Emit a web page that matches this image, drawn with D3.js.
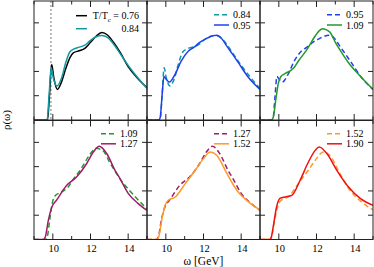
<!DOCTYPE html>
<html><head><meta charset="utf-8">
<script src="https://cdn.jsdelivr.net/npm/d3@7"></script>
<style>body{margin:0;background:#fff}</style></head>
<body><svg id="c" width="374" height="267"></svg>
<script>
// ---- data ----
const omega076 = [9.0, 9.6, 9.72, 9.82, 9.94, 10.05, 10.24, 10.45, 10.7, 10.91, 11.1, 11.4, 11.7, 12.0, 12.3, 12.6, 12.9, 13.22, 13.6, 14.0, 14.5, 15.0];
const rho076   = [0, 0, 0.02, 1.0, 2.29, 1.75, 1.26, 1.55, 2.15, 2.57, 2.77, 2.85, 2.95, 3.2, 3.45, 3.6, 3.5, 3.2, 2.75, 2.2, 1.72, 1.33];
const omega084 = [9.0, 9.6, 9.7, 9.8, 9.91, 10.02, 10.22, 10.45, 10.7, 10.9, 11.1, 11.4, 11.7, 12.0, 12.3, 12.6, 12.9, 13.2, 13.6, 14.0, 14.5, 15.0];
const rho084   = [0, 0, 0.03, 1.0, 2.15, 1.75, 1.4, 1.7, 2.4, 2.8, 2.92, 3.0, 3.08, 3.28, 3.43, 3.48, 3.4, 3.15, 2.7, 2.25, 1.75, 1.3];
const omega095 = [9.0, 9.62, 9.7, 9.8, 9.9, 10.0, 10.19, 10.49, 10.8, 11.2, 11.5, 11.82, 12.1, 12.35, 12.7, 13.0, 13.23, 13.55, 13.85, 14.4, 15.0];
const rho095   = [0, 0, 0.1, 1.0, 1.79, 1.7, 1.56, 1.88, 2.4, 2.84, 3.0, 3.21, 3.33, 3.43, 3.49, 3.32, 3.05, 2.7, 2.36, 1.74, 1.26];
const omega109 = [9.0, 9.6, 9.7, 9.85, 9.97, 10.1, 10.35, 10.6, 10.8, 11.04, 11.5, 11.93, 12.15, 12.32, 12.5, 12.73, 13.0, 13.17, 13.7, 14.23, 15.0];
const rho109   = [0, 0, 0.1, 0.9, 1.5, 1.78, 1.92, 2.02, 2.15, 2.43, 2.91, 3.46, 3.68, 3.76, 3.72, 3.6, 3.2, 2.98, 2.36, 1.88, 1.26];
const omega127 = [9.0, 9.5, 9.6, 9.76, 9.94, 10.2, 10.74, 11.27, 11.8, 12.15, 12.47, 12.86, 13.3, 13.57, 14.0, 14.5, 15.0];
const rho127   = [0, 0, 0.1, 0.79, 1.32, 1.62, 2.23, 2.58, 3.13, 3.6, 3.84, 3.54, 2.85, 2.5, 1.9, 1.5, 1.2];
const omega152 = [9.0, 9.52, 9.62, 9.78, 9.96, 10.14, 10.5, 11.03, 11.56, 12.0, 12.35, 12.7, 13.24, 13.77, 14.39, 15.0];
const rho152   = [0, 0, 0.1, 0.79, 1.41, 1.62, 1.75, 2.3, 2.85, 3.33, 3.6, 3.47, 2.72, 2.03, 1.55, 1.22];
const omega190 = [9.0, 9.53, 9.6, 9.7, 9.88, 10.06, 10.33, 10.69, 11.13, 11.57, 11.93, 12.14, 12.55, 13.08, 13.7, 14.32, 15.0];
const rho190   = [0, 0, 0.1, 0.52, 1.34, 1.69, 1.75, 1.82, 2.44, 3.19, 3.67, 3.81, 3.54, 2.85, 2.16, 1.69, 1.41];

const xTicks = [9, 10, 11, 12, 13, 14, 15];
const xTickLabels = [10, 12, 14];
const yTicks = [1, 2, 3, 4];
const thresholdLine = 9.9;

const seriesTable = {
  "0.76": {omega: omega076, rho: rho076, color: "#000000"},
  "0.84": {omega: omega084, rho: rho084, color: "#11999f"},
  "0.95": {omega: omega095, rho: rho095, color: "#2040f0"},
  "1.09": {omega: omega109, rho: rho109, color: "#22992a"},
  "1.27": {omega: omega127, rho: rho127, color: "#9e1c6a"},
  "1.52": {omega: omega152, rho: rho152, color: "#ff9a28"},
  "1.90": {omega: omega190, rho: rho190, color: "#f01010"}
};
const panelSeries = [
  [["0.76", false], ["0.84", false]],
  [["0.84", true], ["0.95", false]],
  [["0.95", true], ["1.09", false]],
  [["1.09", true], ["1.27", false]],
  [["1.27", true], ["1.52", false]],
  [["1.52", true], ["1.90", false]]
];

// ---- layout ----
const svg = d3.select("#c");
const colX = [34, 147, 260], W = 113;
const rowY = [1, 120.5], H = 119;
const x = d3.scaleLinear().domain([9, 15]).range([0, W]);
const y = d3.scaleLinear().domain([0, 4.9]).range([H, 0]);
const line = d3.line().x(d => x(d[0])).y(d => y(d[1])).curve(d3.curveMonotoneX);

panelSeries.forEach((ser, i) => {
  const r = Math.floor(i / 3), c = i % 3;
  const g = svg.append("g").attr("transform", `translate(${colX[c]},${rowY[r]})`);
  const cid = "clip" + i;
  g.append("clipPath").attr("id", cid).append("rect").attr("width", W).attr("height", H);
  const plot = g.append("g").attr("clip-path", `url(#${cid})`);

  if (i === 0) {
    plot.append("line").attr("x1", x(thresholdLine)).attr("x2", x(thresholdLine))
      .attr("y1", 0).attr("y2", H).attr("stroke", "#777").attr("stroke-width", 1)
      .attr("stroke-dasharray", "2,2");
  }
  ser.forEach(([key, dashed]) => {
    const s = seriesTable[key];
    const pts = s.omega.map((o, k) => [o, s.rho[k]]);
    plot.append("path").attr("d", line(pts)).attr("fill", "none")
      .attr("stroke", s.color).attr("stroke-width", 1.5)
      .attr("stroke-dasharray", dashed ? "5,3" : null);
  });

  // ticks (inside, all four sides)
  const tk = g.append("g").attr("stroke", "#222").attr("stroke-width", 1);
  xTicks.forEach(t => {
    const len = (t % 2 === 0) ? 6 : 3.5;
    tk.append("line").attr("x1", x(t)).attr("x2", x(t)).attr("y1", H).attr("y2", H - len);
    tk.append("line").attr("x1", x(t)).attr("x2", x(t)).attr("y1", 0).attr("y2", len);
  });
  yTicks.forEach(t => {
    tk.append("line").attr("x1", 0).attr("x2", 5).attr("y1", y(t)).attr("y2", y(t));
    tk.append("line").attr("x1", W).attr("x2", W - 5).attr("y1", y(t)).attr("y2", y(t));
  });
  g.append("rect").attr("width", W).attr("height", H).attr("fill", "none")
    .attr("stroke", "#222").attr("stroke-width", 1);

  // tick labels on bottom row
  if (r === 1) {
    xTickLabels.forEach(t => {
      g.append("text").attr("x", x(t) + 1).attr("y", H + 12.5).attr("text-anchor", "middle")
        .attr("font-family", "Liberation Serif").attr("font-size", 10.5).text(t);
    });
  }

  // legend
  const rowsY = i === 0 ? [14.7, 27.7] : (r === 0 ? [13.7, 24] : [13.3, 23.3]);
  ser.forEach(([key, dashed], k) => {
    const s = seriesTable[key];
    const lx = i === 0 ? [42, 53] : [67, 82];
    g.append("line").attr("x1", lx[0]).attr("x2", lx[1]).attr("y1", rowsY[k]).attr("y2", rowsY[k])
      .attr("stroke", s.color).attr("stroke-width", 1.5)
      .attr("stroke-dasharray", dashed ? "5,3" : null);
    const t = g.append("text").attr("y", rowsY[k] + 3.5)
      .attr("font-family", "Liberation Serif").attr("font-size", 10);
    if (i === 0) {
      t.attr("x", 105).attr("text-anchor", "end");
      if (k === 0) {
        t.append("tspan").text("T/T");
        t.append("tspan").attr("font-size", 7).attr("dy", 2.5).text("c");
        t.append("tspan").attr("dy", -2.5).text(" = " + key);
      } else t.text(key);
    } else {
      t.attr("x", 86).text(key);
    }
  });
});

// axis titles
svg.append("text").attr("x", 203.5).attr("y", 264.5).attr("text-anchor", "middle")
  .attr("font-family", "Liberation Serif").attr("font-size", 11.5).text("ω [GeV]");
svg.append("text").attr("transform", "translate(10,120) rotate(-90)").attr("text-anchor", "middle")
  .attr("font-family", "Liberation Serif").attr("font-size", 11).text("ρ(ω)");
</script></body></html>
